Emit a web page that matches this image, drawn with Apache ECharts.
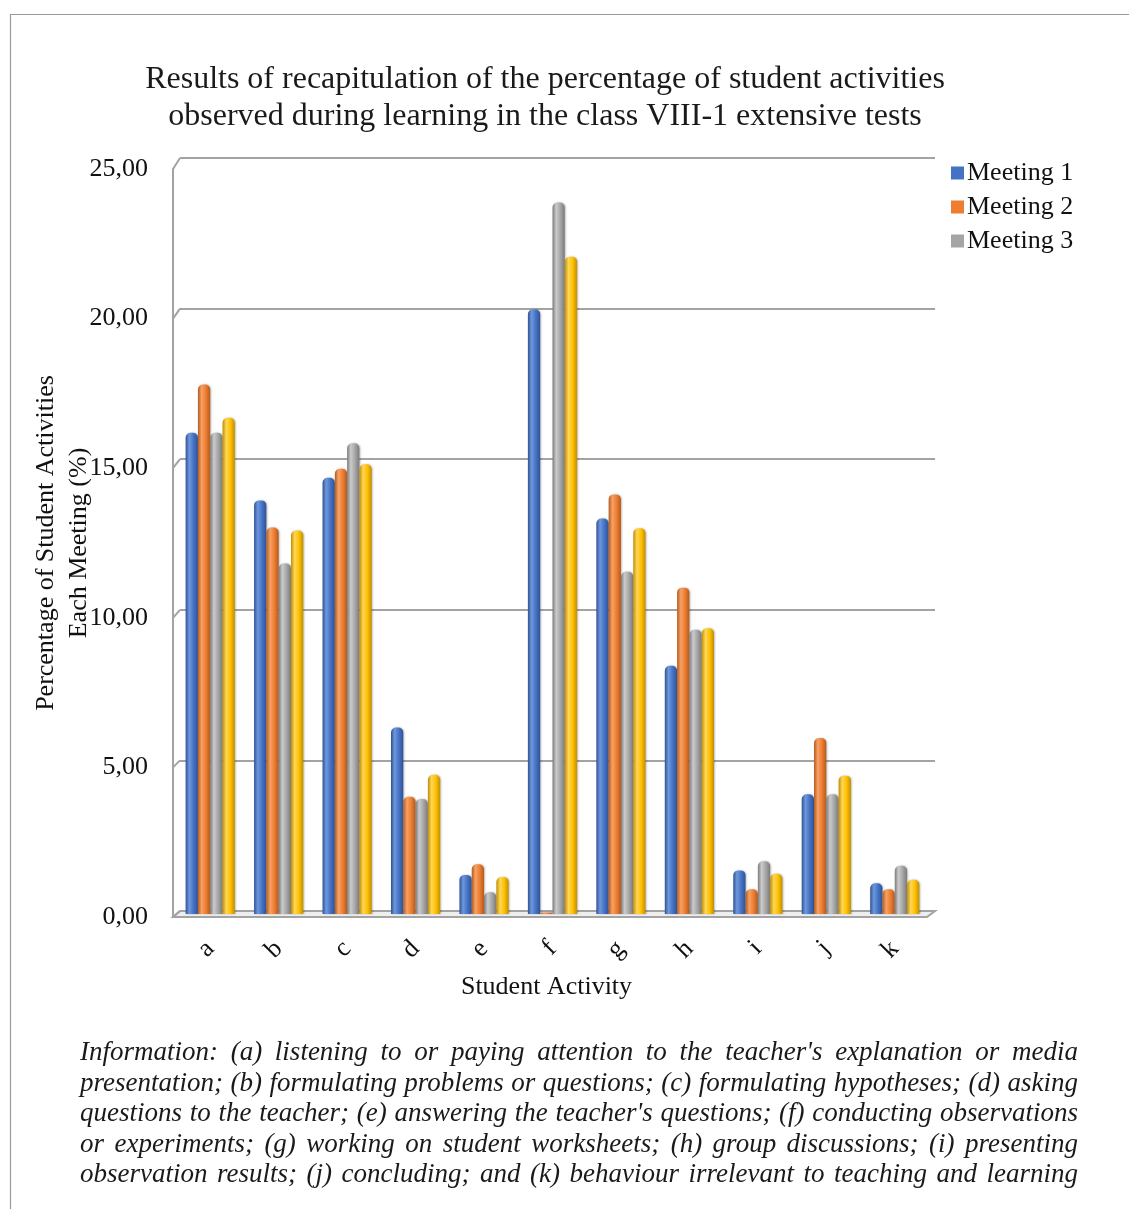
<!DOCTYPE html>
<html>
<head>
<meta charset="utf-8">
<script src="https://cdn.jsdelivr.net/npm/echarts@6/dist/echarts.min.js"></script>
<style>
  html, body { margin: 0; padding: 0; background: #fff; }
  #chart { width: 1129px; height: 1209px; }
</style>
</head>
<body>
<div id="chart"></div>
<script>
// Student activity codes (a–k)
const categories = ['a', 'b', 'c', 'd', 'e', 'f', 'g', 'h', 'i', 'j', 'k'];

// Percentage of student activities per meeting
const meeting1 = [16.0, 13.75, 14.5, 6.2, 1.3, 20.1, 13.15, 8.25, 1.45, 3.98, 1.02];
const meeting2 = [17.6, 12.85, 14.8, 3.9, 1.65, 0.05, 13.95, 10.85, 0.82, 5.85, 0.82];
const meeting3 = [16.0, 11.65, 15.65, 3.82, 0.72, 23.65, 11.38, 9.45, 1.75, 3.98, 1.6];
const average = [16.5, 12.75, 14.95, 4.63, 1.23, 21.85, 12.82, 9.5, 1.34, 4.6, 1.14];

const seriesNames = ['Meeting 1', 'Meeting 2', 'Meeting 3', 'Average'];
const yTicks = [0, 5, 10, 15, 20, 25];

const titleLines = [
  'Results of recapitulation of the percentage of student activities',
  'observed during learning in the class VIII-1 extensive tests'
];
const yAxisTitle = 'Percentage of Student Activities\nEach Meeting (%)';
const xAxisTitle = 'Student Activity';
const noteLines = [
  "Information: (a) listening to or paying attention to the teacher's explanation or media",
  'presentation; (b) formulating problems or questions; (c) formulating hypotheses; (d) asking',
  "questions to the teacher; (e) answering the teacher's questions; (f) conducting observations",
  'or experiments; (g) working on student worksheets; (h) group discussions; (i) presenting',
  'observation results; (j) concluding; and (k) behaviour irrelevant to teaching and learning'
];

const SERIF = '"Liberation Serif", "Times New Roman", serif';
const GRID_GRAY = '#a3a3a3';

// Cylinder shading: [edge, highlight, body]
const palette = [
  ['#2d5394', '#6f97dc', '#4472c4'],
  ['#b45a1d', '#f7a166', '#ed7d31'],
  ['#7b7b7b', '#cbcbcb', '#a5a5a5'],
  ['#c08f00', '#ffd65a', '#ffc000']
];
function cylinder(p) {
  return new echarts.graphic.LinearGradient(0, 0, 1, 0, [
    { offset: 0, color: p[0] },
    { offset: 0.3, color: p[1] },
    { offset: 0.65, color: p[2] },
    { offset: 1, color: p[0] }
  ]);
}

// Three planes of the pseudo-3D frame: front (labels), middle (columns), back (wall)
const FRONT = { left: 176, right: 200, top: 169, bottom: 292 };
const MID = { left: 176, right: 200, top: 162, bottom: 295 };
const BACK = { left: 180, right: 194, top: 158, bottom: 298 };

const chart = echarts.init(document.getElementById('chart'), null, { renderer: 'canvas' });

const dataSets = [meeting1, meeting2, meeting3, average];

const option = {
  backgroundColor: '#ffffff',
  animation: false,
  title: {
    text: titleLines.join('\n'),
    left: 540,
    textAlign: 'center',
    top: 56,
    textStyle: { fontFamily: SERIF, fontSize: 32, fontWeight: 'normal', color: '#1a1a1a', lineHeight: 37 }
  },
  legend: {
    orient: 'vertical',
    left: 946,
    top: 155,
    itemWidth: 13,
    itemHeight: 13,
    itemGap: 8,
    icon: 'rect',
    textStyle: { fontFamily: SERIF, fontSize: 26, color: '#111', padding: [0, 0, 0, -2] },
    data: seriesNames.slice(0, 3).map((n, i) => ({ name: n, itemStyle: { color: palette[i][2] } }))
  },
  grid: [
    Object.assign({ containLabel: false }, FRONT),
    Object.assign({ containLabel: false }, MID),
    Object.assign({ containLabel: false }, BACK)
  ],
  xAxis: [
    {
      gridIndex: 0, type: 'category', data: categories,
      axisLine: { show: false }, axisTick: { show: false },
      axisLabel: { rotate: 45, margin: 28, fontFamily: SERIF, fontSize: 26, color: '#111' },
      name: xAxisTitle, nameLocation: 'middle', nameGap: 57,
      nameTextStyle: { fontFamily: SERIF, fontSize: 26, color: '#111', padding: [0, 12, 0, 0] }
    },
    { gridIndex: 1, type: 'category', data: categories, show: false },
    { gridIndex: 2, type: 'category', data: categories, show: false }
  ],
  yAxis: [
    {
      gridIndex: 0, type: 'value', min: 0, max: 25, interval: 5, offset: 3,
      axisLine: { show: true, lineStyle: { color: GRID_GRAY, width: 2 } },
      axisTick: { show: false },
      splitLine: { show: false },
      axisLabel: {
        margin: 25, fontFamily: SERIF, fontSize: 26, color: '#111',
        formatter: v => v.toFixed(2).replace('.', ',')
      },
      name: yAxisTitle, nameLocation: 'middle', nameRotate: 90, nameGap: 77,
      nameMoveOverlap: false,
      nameTextStyle: { fontFamily: SERIF, fontSize: 26, color: '#111', lineHeight: 33 }
    },
    { gridIndex: 1, type: 'value', min: 0, max: 25, interval: 5, show: false, splitLine: { show: false } },
    {
      gridIndex: 2, type: 'value', min: 0, max: 25, interval: 5,
      axisLine: { show: false }, axisTick: { show: false }, axisLabel: { show: false },
      splitLine: { show: true, lineStyle: { color: GRID_GRAY, width: 2 } }
    }
  ],
  series: dataSets.map((d, i) => ({
    name: seriesNames[i],
    type: 'bar',
    xAxisIndex: 1,
    yAxisIndex: 1,
    data: d,
    barWidth: 12.3,
    barGap: '0%',
    z: 3,
    itemStyle: {
      color: cylinder(palette[i]),
      borderRadius: [5, 5, 0, 0],
      shadowColor: 'rgba(0,0,0,0.25)',
      shadowBlur: 2,
      shadowOffsetX: 1
    }
  }))
};

chart.setOption(option);

// Frame decorations derived from the axis scales
function frontY(v) { return chart.convertToPixel({ yAxisIndex: 0 }, v); }
function backY(v) { return chart.convertToPixel({ yAxisIndex: 2 }, v); }

const W = 1129;
const fxL = FRONT.left - 3, fxR = W - FRONT.right - 2;
const bxL = BACK.left, bxR = W - BACK.right;

const graphics = [];

// outer border of the figure
graphics.push({
  type: 'rect', z: 0, silent: true,
  shape: { x: 10.5, y: 14.5, width: 1140, height: 1220 },
  style: { fill: null, stroke: '#9a9a9a', lineWidth: 1.2 }
});

// floor of the plot
graphics.push({
  type: 'polygon', z: 1, silent: true,
  shape: { points: [[fxL, frontY(0)], [fxR, frontY(0)], [bxR, backY(0)], [bxL, backY(0)]] },
  style: { fill: '#eeeeee', stroke: GRID_GRAY, lineWidth: 2 }
});

// diagonal joints between the side wall and the back wall gridlines
yTicks.forEach(v => {
  graphics.push({
    type: 'line', z: 1, silent: true,
    shape: { x1: fxL, y1: frontY(v), x2: bxL, y2: backY(v) },
    style: { stroke: GRID_GRAY, lineWidth: 2 }
  });
});

// justified footnote; font size chosen so the widest line fits with natural spacing
const noteLeft = 80, noteRight = 1078, noteTop = 1053, noteStep = 30.6;
const ctx = document.createElement('canvas').getContext('2d');
ctx.font = 'italic 20px ' + SERIF;
const widest = Math.max.apply(null, noteLines.map(l => ctx.measureText(l).width));
const noteSize = Math.min(27, 20 * (noteRight - noteLeft) / widest * 0.995);
const noteFont = 'italic ' + noteSize.toFixed(2) + 'px ' + SERIF;
ctx.font = noteFont;
noteLines.forEach((line, li) => {
  const words = line.split(' ');
  const widths = words.map(w => ctx.measureText(w).width);
  const total = widths.reduce((a, b) => a + b, 0);
  const gap = (noteRight - noteLeft - total) / (words.length - 1);
  let x = noteLeft;
  words.forEach((w, wi) => {
    graphics.push({
      type: 'text', z: 5, silent: true,
      x: x, y: noteTop + li * noteStep,
      style: {
        text: w, font: noteFont, fill: '#1a1a1a',
        textAlign: 'left', textVerticalAlign: 'middle', verticalAlign: 'middle'
      }
    });
    x += widths[wi] + gap;
  });
});

chart.setOption({ graphic: graphics });
</script>
</body>
</html>
